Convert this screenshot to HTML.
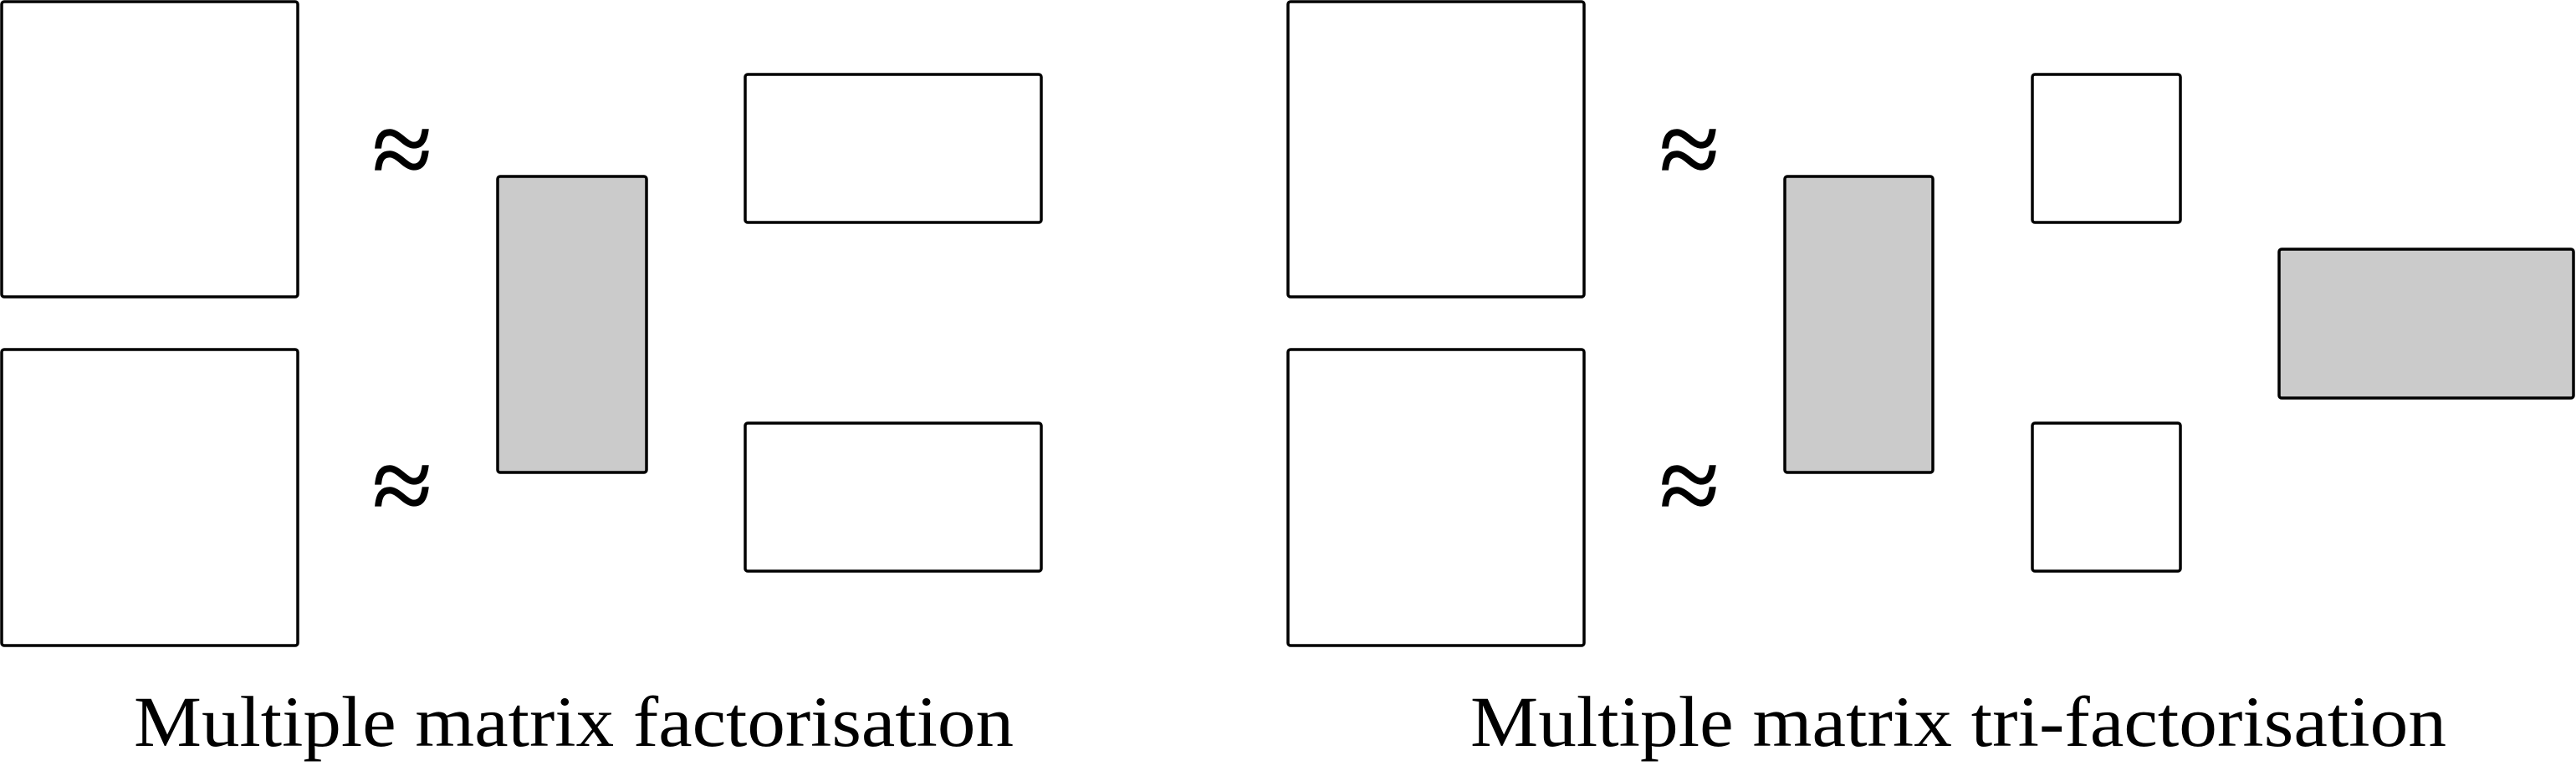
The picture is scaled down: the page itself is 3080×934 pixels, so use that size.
<!DOCTYPE html>
<html><head><meta charset="utf-8"><style>
html,body{margin:0;padding:0;background:#fff;}
svg{display:block;}
text{font-family:"Liberation Serif",serif;fill:#000;}
</style></head><body>
<svg width="3080" height="934" viewBox="0 0 3080 934">
<g fill="none" stroke="#000" stroke-width="3.5" stroke-linejoin="round">
  <rect x="2" y="2" width="354" height="353" rx="3"/>
  <rect x="2" y="418" width="354" height="354" rx="3"/>
  <rect x="595" y="211" width="178" height="354" rx="3" fill="#cbcbcb"/>
  <rect x="891" y="89" width="354" height="177" rx="3"/>
  <rect x="891" y="506" width="354" height="177" rx="3"/>
</g>
<text x="481" y="222" font-size="130" text-anchor="middle" stroke="#000" stroke-width="1.5">≈</text>
<text x="481" y="624" font-size="130" text-anchor="middle" stroke="#000" stroke-width="1.5">≈</text>
<text x="160" y="892" font-size="86" textLength="1052" lengthAdjust="spacingAndGlyphs">Multiple matrix factorisation</text>

<g fill="none" stroke="#000" stroke-width="3.5" stroke-linejoin="round">
  <rect x="1540" y="2" width="354" height="353" rx="3"/>
  <rect x="1540" y="418" width="354" height="354" rx="3"/>
  <rect x="2134" y="211" width="177" height="354" rx="3" fill="#cbcbcb"/>
  <rect x="2430" y="89" width="177" height="177" rx="3"/>
  <rect x="2430" y="506" width="177" height="177" rx="3"/>
  <rect x="2725" y="298" width="352" height="178" rx="3" fill="#cbcbcb"/>
</g>
<text x="2020" y="222" font-size="130" text-anchor="middle" stroke="#000" stroke-width="1.5">≈</text>
<text x="2020" y="624" font-size="130" text-anchor="middle" stroke="#000" stroke-width="1.5">≈</text>
<text x="1758" y="892" font-size="86" textLength="1167" lengthAdjust="spacingAndGlyphs">Multiple matrix tri-factorisation</text>
</svg>
</body></html>
